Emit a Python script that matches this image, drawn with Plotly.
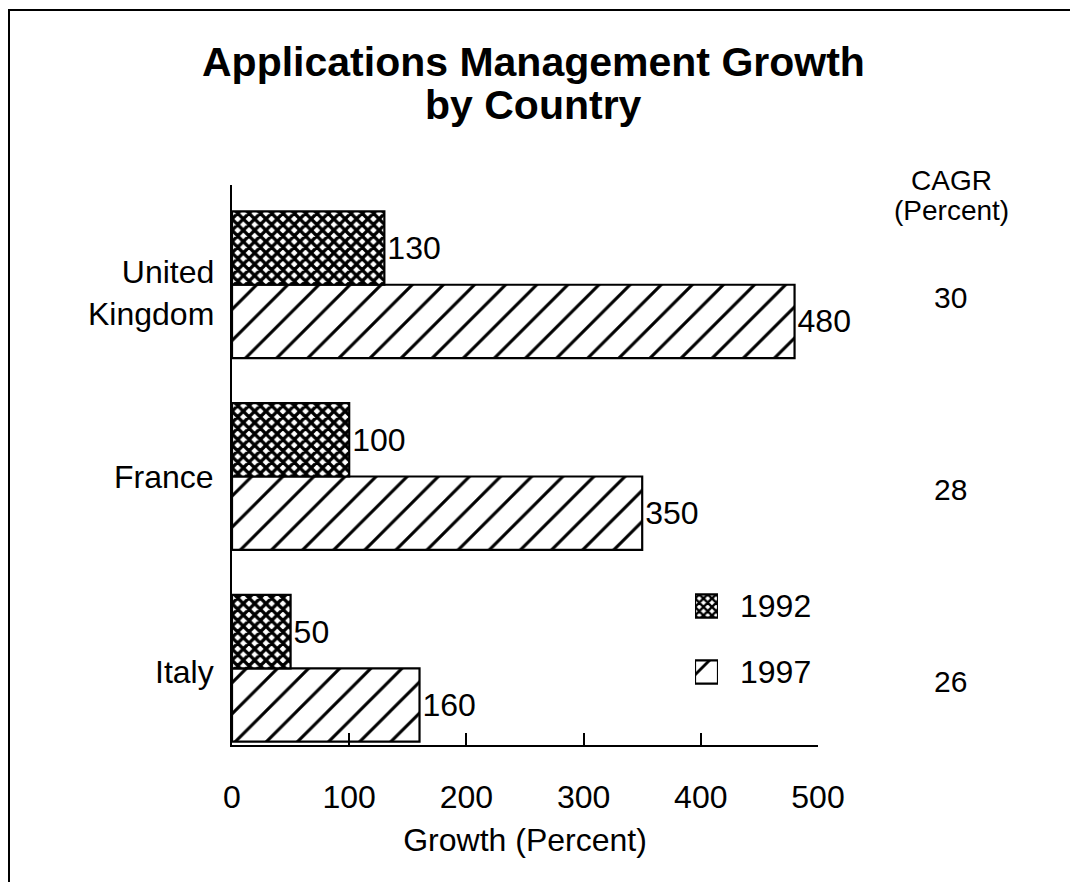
import plotly.graph_objects as go

countries = ["Italy", "France", "United Kingdom"]
country_labels = ["Italy", "France", "United<br>Kingdom"]
growth_1992 = [50, 100, 130]
growth_1997 = [160, 350, 480]
cagr = [26, 28, 30]
x_ticks = [0, 100, 200, 300, 400, 500]
legend_years = ["1992", "1997"]
title_lines = ["Applications Management Growth", "by Country"]

# the page puts the figure 8px in from the top-left corner
OFF = 8
W, H = 1078 - OFF, 882 - OFF
L, R, T, B = 232 - OFF, W - (818 - OFF), 185 - OFF, H - (745 - OFF)
PW, PH = W - L - R, H - T - B

FONT = "Liberation Sans, Arial, Helvetica, sans-serif"
FS = 32

XPAT = dict(shape="x", size=8, solidity=0.65, fgcolor="black", bgcolor="white", fgopacity=1)
SPAT = dict(shape="/", size=22, solidity=0.14, fgcolor="black", bgcolor="white", fgopacity=1)


def px_x(px):
    # page pixel -> paper x
    return (px - OFF - L) / PW


def px_y(py):
    return (H - B - (py - OFF)) / PH


fig = go.Figure()

# 1997 first so that it sits below 1992 inside each group
fig.add_trace(go.Bar(
    y=countries, x=growth_1997, orientation="h", name="1997",
    marker=dict(color="white", line=dict(color="black", width=2.2), pattern=SPAT),
    text=growth_1997, textposition="outside", cliponaxis=False,
    textfont=dict(size=FS, color="black", family=FONT),
))
fig.add_trace(go.Bar(
    y=countries, x=growth_1992, orientation="h", name="1992",
    marker=dict(color="white", line=dict(color="black", width=2.2), pattern=XPAT),
    text=growth_1992, textposition="outside", cliponaxis=False,
    textfont=dict(size=FS, color="black", family=FONT),
))

# hand-made legend: two small patterned squares on their own little axes
fig.add_trace(go.Bar(
    y=[1, 0], x=[1, 1], orientation="h", width=0.35,
    marker=dict(color="white", line=dict(color="black", width=2.2),
                pattern=dict(shape=["x", "/"], size=[6, 24], solidity=[0.65, 0.12],
                             fgcolor="black", bgcolor="white", fgopacity=1)),
    xaxis="x2", yaxis="y2", hoverinfo="skip",
))

annotations = []
for i, line in enumerate(title_lines):
    annotations.append(dict(
        x=px_x(533), y=px_y(62 + 43 * i), xref="paper", yref="paper",
        text=f"<b>{line}</b>", showarrow=False, xanchor="center", yanchor="middle",
        font=dict(size=41, color="black", family=FONT),
    ))
for txt, py in [("CAGR", 180), ("(Percent)", 211)]:
    annotations.append(dict(
        x=px_x(951), y=px_y(py), xref="paper", yref="paper", text=txt,
        showarrow=False, xanchor="center", yanchor="middle",
        font=dict(size=28, color="black", family=FONT),
    ))
for c, v in zip(countries, cagr):
    annotations.append(dict(
        x=px_x(950), y=c, xref="paper", yref="y", yshift=-13,
        text=str(v), showarrow=False, xanchor="center",
        font=dict(size=FS - 2, color="black", family=FONT),
    ))
# country names, drawn as annotations so the two-line one can sit a bit lower
for c, lab, shift in zip(countries, country_labels, [-4, 0, -8]):
    annotations.append(dict(
        x=px_x(216), y=c, xref="paper", yref="y", yshift=shift,
        text=lab, showarrow=False, xanchor="right", yanchor="middle", align="right",
        font=dict(size=FS, color="black", family=FONT),
    ))
for i, yr in enumerate(legend_years):
    annotations.append(dict(
        x=px_x(738), y=1 - i, xref="paper", yref="y2", text=yr,
        showarrow=False, xanchor="left", yanchor="middle",
        font=dict(size=FS, color="black", family=FONT),
    ))

fig.update_layout(
    width=W, height=H,
    margin=dict(l=L, r=R, t=T, b=B, autoexpand=False),
    paper_bgcolor="white", plot_bgcolor="white",
    font=dict(family=FONT, size=FS, color="black"),
    barmode="group", bargap=0.235, bargroupgap=0,
    showlegend=False,
    xaxis=dict(
        range=[0, 500], tickvals=x_ticks, ticks="inside", ticklen=12, tickwidth=2,
        tickcolor="black", showline=True, linecolor="black", linewidth=2,
        showgrid=False, zeroline=False, ticklabelstandoff=23,
        tickfont=dict(size=FS, family=FONT),
        title=dict(text="Growth (Percent)", standoff=14, font=dict(size=FS, family=FONT)),
    ),
    yaxis=dict(
        type="category", categoryorder="array", categoryarray=countries,
        range=[-0.4, 2.52], showticklabels=False,
        ticks="", showline=True, linecolor="black", linewidth=2,
        showgrid=False, zeroline=False,
    ),
    xaxis2=dict(domain=[px_x(695), px_x(718)], range=[0, 1], visible=False,
                anchor="y2", fixedrange=True),
    yaxis2=dict(domain=[px_y(705), px_y(573)], range=[-0.5, 1.5], visible=False,
                anchor="x2", fixedrange=True),
    annotations=annotations,
    shapes=[dict(
        type="rect", xref="paper", yref="paper",
        x0=px_x(9), x1=px_x(1100),
        y0=px_y(10), y1=px_y(900),
        line=dict(color="black", width=2), fillcolor="rgba(0,0,0,0)", layer="below",
    )],
)

fig.write_html("out.html")
